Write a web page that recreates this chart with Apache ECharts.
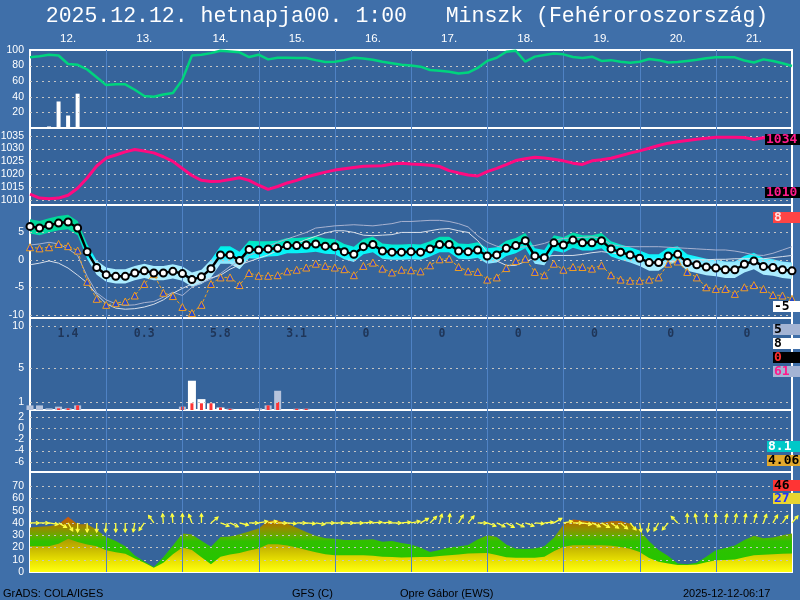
<!DOCTYPE html>
<html><head><meta charset="utf-8">
<script src="https://cdn.jsdelivr.net/npm/echarts@6.0.0/dist/echarts.min.js"></script>
<style>html,body{margin:0;padding:0;background:#3f6fa9;}#c{width:800px;height:600px;}</style>
</head><body><div id="c"></div>
<script>
// ---------------- DATA ----------------
const dayLabels = ['12.','13.','14.','15.','16.','17.','18.','19.','20.','21.'];
const humidity = [90.6,92,94,93,82,81,75,65,55,56,56,49,41,40,43,45,62,93,94,96,99,98,97,91,94,88,90,90,89.7,89.7,87,84.5,85,87,90,89,87.6,85,83,81,80,78.6,74.4,73.5,72,70,71,77,86,90,97.8,99,85,91.5,93.5,95.5,94.4,91,89.7,91.4,86,87,85,83.7,85,88.5,87,84,84.5,86,87.5,89.5,90.6,90.6,90.6,86.5,84,88,86,83,79.5];
const topBars = [[2,2],[3,34],[4,16],[5,44]];
const pressure = [1012.2,1010.7,1010.4,1010.7,1011.8,1014.5,1018.5,1023.2,1026.3,1027.5,1028.7,1029.6,1029.0,1028.3,1026.8,1025.0,1022.2,1019.5,1017.6,1017.2,1017.3,1017.9,1018.6,1017.6,1015.7,1014.1,1015.2,1016.6,1017.6,1018.9,1019.9,1020.8,1021.6,1022.1,1022.6,1023.1,1023.2,1023.3,1024.0,1024.3,1024.0,1023.8,1023.5,1023.0,1021.4,1020.5,1019.7,1019.3,1021.0,1022.3,1023.7,1025.3,1026.0,1026.6,1026.3,1025.8,1025.2,1024.3,1023.8,1025.2,1025.6,1026.2,1027.2,1028.2,1029.1,1030.1,1031.2,1032.1,1032.6,1033.1,1033.6,1034.0,1034.4,1034.4,1034.4,1034.3,1033.5,1034.2,1034.4,1034.3,1034.2];
const temp = [6.1,5.8,6.3,6.7,6.9,5.8,1.5,-1.4,-2.7,-3.0,-3.0,-2.4,-2.0,-2.4,-2.4,-2.1,-2.5,-3.6,-3.1,-1.6,0.9,0.9,-0.1,1.9,1.8,2.0,2.1,2.6,2.6,2.7,2.9,2.5,2.4,1.5,1.0,2.4,2.8,1.6,1.4,
 1.4,1.5,1.4,2.0,2.8,2.8,1.6,1.5,1.8,0.7,0.9,2.1,2.6,3.5,0.7,0.4,3.1,2.7,3.6,3.1,3.1,3.5,2.0,1.4,0.9,0.3,-0.5,-0.5,0.7,1.0,-0.5,-0.9,-1.3,-1.5,-1.8,-1.8,-0.8,-0.2,-1.2,-1.4,-1.8,-2.0];
const tempHigh = [7.4,7.1,7.6,8.0,8.2,7.1,2.9,-0.1,-1.4,-1.7,-1.7,-1.1,-0.7,-1.1,-1.1,-0.8,-1.2,-2.3,-1.8,0.0,2.5,2.5,1.5,3.5,3.4,
 3.4,3.5,4.0,4.0,4.1,4.3,3.9,3.8,2.9,2.4,3.8,4.2,3.0,2.8,
 2.8,2.9,2.8,3.4,4.2,4.2,3.0,2.9,3.2,2.1,2.3,3.5,4.0,4.9,2.1,1.8,4.5,4.1,5.0,4.5,4.5,4.9,3.4,2.8,2.3,1.7,
 1.0,1.0,2.2,2.5,1.0,0.6,0.2,0.0,-0.3,-0.3,0.7,1.3,0.3,0.1,-0.3,-0.5];
const tempLow = [4.8,4.5,5.0,5.4,5.6,4.5,0.2,-2.7,-4.0,-4.3,-4.3,-3.7,-3.3,-3.7,-3.7,-3.4,-3.8,-4.9,-4.4,-3.2,-0.7,-0.7,-1.7,0.3,0.2,
 0.6,0.7,1.2,1.2,1.3,1.5,1.1,1.0,0.1,-0.4,1.0,1.4,0.2,0.0,
 0.0,0.1,0.0,0.6,1.4,1.4,0.2,0.1,0.4,-0.7,-0.5,0.7,1.2,2.1,-0.7,-1.0,1.7,1.3,2.2,1.7,1.7,2.1,0.6,0.0,-0.5,-1.1,
 -2.0,-2.0,-0.8,-0.5,-2.0,-2.4,-2.8,-3.0,-3.3,-3.3,-2.3,-1.7,-2.7,-2.9,-3.3,-3.5];
const dewpoint = [2.3,2.1,2.3,2.9,2.5,1.7,-4.0,-7.1,-8.2,-7.9,-7.6,-6.5,-4.4,-2.6,-6.0,-6.6,-8.6,-9.7,-8.2,-4.4,-3.2,-3.2,-4.6,-2.4,-2.9,-2.9,-2.8,-2.1,-1.8,-1.4,-0.7,-1.1,-1.4,-1.7,-2.8,-1.1,-0.5,-1.6,-2.3,
 -1.8,-1.9,-2.1,-1.0,0.1,0.2,-1.3,-2.1,-2.2,-3.6,-3.2,-1.5,-0.2,0.2,-2.2,-2.8,-0.7,-1.8,-1.3,-1.3,-1.6,-1.0,-2.8,-3.6,-3.8,-3.8,-3.6,-3.2,-0.7,-0.3,-2.2,-3.2,-5.0,-5.3,-5.3,-6.2,-5.0,-4.6,-5.3,-6.4,-6.5,-7.1];
const tempAltA = [-0.9,-0.6,-0.2,-0.6,-1.5,-2.8,-4.2,-6.3,-8.0,-8.8,-9.0,-8.9,-8.6,-8.1,-7.3,-6.1,-5.2,-4.4,-3.8,-3.3,-2.8,-1.7,-0.9,-0.3,0.3,0.9,1.7,2.4,3.0,3.7,4.3,4.9,5.3,5.3,5.0,4.5,4.4,4.5,4.6,5.0,5.0,5.0,5.3,5.6,5.7,5.3,5.0,3.5,1.4,-0.2,-1.0,-1.0,-0.3,0.3,0.6,0.8,0.8,0.8,1.0,1.3,1.5,1.3,1.0,0.8,0.3,-0.5,-0.6,-0.4,-0.2,-0.1,0.0,0.0,0.1,0.1,0.2,0.2,0.2,0.2,0.4,0.6,0.8];
const tempAltB = [2.7,2.9,3.2,2.9,2.0,0.8,-3.0,-6.0,-7.3,-8.0,-8.3,-8.2,-7.8,-7.6,-6.8,-5.9,-6.5,-5.0,-4.2,-3.5,-2.5,-1.2,-0.2,0.8,1.5,2.5,3.2,3.8,4.4,5.0,5.8,6.0,6.2,6.3,6.4,6.3,6.2,6.4,6.6,7.0,7.0,7.1,7.2,7.2,7.0,6.6,6.0,4.4,3.2,2.5,2.1,2.2,2.4,2.6,3.0,3.6,3.9,4.0,4.1,4.2,4.0,2.8,2.5,2.4,2.4,2.4,2.4,2.3,2.2,2.1,2.0,1.9,1.8,1.8,1.6,1.3,0.9,0.8,1.2,1.8,2.4];
const precipGray = [[0,0.55],[1,0.55],[2,0.2],[3,0.4],[4,0.2],[5,0.55],[16,0.4],[21,0.15],[24,0.2],[25,0.55],[26,2.3],[28,0.15],[29,0.15]];
const precipWhite = [[17,3.5],[18,1.3],[19,0.8],[20,0.3]];
const precipRed = [[3,0.2],[4,0.2],[5,0.55],[16,0.4],[17,0.8],[18,0.8],[19,0.8],[20,0.3],[21,0.15],[25,0.55],[26,0.95],[28,0.15],[29,0.15]];
const precipDaily = [1.4,0.3,5.8,3.1,0,0,0,0,0,0];
const windGust = [36.3,36.8,37.3,39,45,39,39,34.5,28.5,25.2,21,13.5,8.5,4,12,21.5,31.4,30.5,25.5,20.5,28.5,29,30.8,33,35.4,41.8,42.2,39.5,36,32.5,29.5,27.5,27,26.1,26.1,26.3,26.6,24.7,25.2,23.7,22.5,19.8,16.4,18,19.9,20.8,22,26.5,30,28.6,22.5,19,18.8,19.2,21,28,38.5,42.8,42,41,40.2,41.3,41.5,39.3,34,25,18,13,7,6.3,7.5,12.5,17.7,19.5,21.5,26,29.5,27.5,28.2,30,31.4];
const windSpeed = [21,21,21,23,27,24.5,22.5,21,17.7,16,14.8,11,7.5,3.5,7.5,14.5,19.9,18,12,6.3,12.5,14.2,15.5,17.5,19.1,22.6,22.6,21.5,20,18,16,14.5,13.6,13.6,13.6,13.6,13.2,12.4,12.3,11.8,12,12.2,12.3,13,13.6,14.3,15,15.3,15.5,13.8,12,11.7,11.7,11.7,12.5,17,20.5,21.8,21.8,21.8,21.8,21.3,20.3,19,16.4,11.5,8.4,7,5.8,5.7,6.1,8,9.5,9.8,10.2,12,13.6,14,14.4,14.8,15];
const windDir = [0,0,-10,-30,-60,-90,-90,-90,-95,-90,-90,-100,-125,125,95,95,90,110,90,40,-20,-25,-15,0,10,10,0,-5,0,-5,-10,0,0,0,0,5,5,5,0,5,10,30,45,75,85,60,50,0,-20,-25,-30,-25,-20,-5,5,30,10,0,-10,-25,-30,-35,-40,-50,-80,-100,-120,-130,135,90,100,90,90,80,80,80,75,70,60,55,50];
const yTicks = [[20,40,60,80,100],[1010,1015,1020,1025,1030,1035],[-10,-5,0,5],[1,5,10],[-6,-4,-2,0,2],[0,10,20,30,40,50,60,70]];
const gridVals = [[20,40,60,80],[1010,1015,1020,1025,1030,1035],[-10,-5,0,5],[1,5,10],[-6,-4,-2,0,2],[10,20,30,40,50,60,70]];
const dayLines = [8,16,24,32,40,48,56,64,72];
const sideLabels = [
  {t:'1034',y:134,x:765,bg:'#000000',fg:'#ff1a8c'},
  {t:'1010',y:187,x:765,bg:'#000000',fg:'#ff1a8c'},
  {t:'8',y:212,x:773,bg:'#ff4444',fg:'#ffe0e0'},
  {t:'-5',y:301,x:773,bg:'#ffffff',fg:'#000000'},
  {t:'5',y:324,x:773,bg:'#a4b4d4',fg:'#000000'},
  {t:'8',y:338,x:773,bg:'#ffffff',fg:'#000000'},
  {t:'0',y:352,x:773,bg:'#000000',fg:'#ff3030'},
  {t:'61',y:366,x:773,bg:'#a4b4d4',fg:'#ff1a8c'},
  {t:'8.1',y:441,x:767,bg:'#00c8c8',fg:'#ffffff'},
  {t:'4.06',y:455,x:767,bg:'#e2a82c',fg:'#000000'},
  {t:'46',y:480,x:773,bg:'#ff3434',fg:'#000000'},
  {t:'27',y:493,x:773,bg:'#e8d430',fg:'#2030ff'}
];
const ARROW_LEVEL = 40;

// ---------------- LAYOUT ----------------
const chart = echarts.init(document.getElementById('c'));
const PLOT_BG = '#36649b';
const gridBoxes = [[50,78],[128,77],[205,113],[318,92],[410,62],[472,100]];
const yRanges = [[0,100],[1008,1038],[-10.6,10],[0,11],[-7.8,3.2],[0,81.5]];
const grid = gridBoxes.map(b => ({left:30,width:762,top:b[0],height:b[1],show:true,backgroundColor:PLOT_BG,borderColor:'#ffffff',borderWidth:2,containLabel:false,outerBoundsMode:'none'}));
const xAxis = [];
for (let i=0;i<6;i++) xAxis.push({gridIndex:i,type:'value',min:0,max:80,show:i===0,position:'top',
  axisLine:{show:false},axisTick:{show:false},splitLine:{show:false},
  axisLabel:{show:i===0,customValues:[4,12,20,28,36,44,52,60,68,76],formatter:v=>dayLabels[Math.round((v-4)/8)],color:'#ffffff',fontSize:11.5,fontFamily:'Liberation Sans',margin:5}});
xAxis.push({gridIndex:3,type:'value',min:0,max:80,show:false});
xAxis.push({gridIndex:3,type:'value',min:0,max:80,show:false});
const yAxis = yRanges.map((r,i)=>({gridIndex:i,type:'value',min:r[0],max:r[1],
  axisLine:{show:false},axisTick:{show:false},splitLine:{show:false},
  axisLabel:{customValues:yTicks[i],showMinLabel:true,showMaxLabel:true,color:'#ffffff',fontSize:10.5,fontFamily:'Liberation Sans',margin:6,formatter:v=>String(v)}}));

const pairs = arr => arr.map((v,i)=>[i,v]);
const G = (y1,y2,stops) => new echarts.graphic.LinearGradient(0,y1,0,y2,stops.map(s=>({offset:s[0],color:s[1]})),true);

const series = [];
// gridlines and day lines
for (let g=0; g<6; g++) {
  series.push({type:'custom',xAxisIndex:g,yAxisIndex:g,z:3,silent:true,clip:false,
    data:gridVals[g].map(v=>[0,v]),
    renderItem:(p,api)=>{const a=api.coord([0,api.value(1)]);const b=api.coord([80,api.value(1)]);const y=Math.round(a[1])+0.5;
      return {type:'line',shape:{x1:a[0],y1:y,x2:b[0],y2:y},style:{stroke:'#c4c4c4',lineWidth:1,lineDash:[2,4]}};}});
  const r = yRanges[g];
  series.push({type:'custom',xAxisIndex:g,yAxisIndex:g,z:3,silent:true,clip:false,
    data:dayLines.map(d=>[d,r[0]]),
    renderItem:(p,api)=>{const a=api.coord([api.value(0),r[0]]);const b=api.coord([api.value(0),r[1]]);const x=Math.round(a[0])+0.5;
      return {type:'line',shape:{x1:x,y1:a[1],x2:x,y2:b[1]},style:{stroke:'#4f82c4',lineWidth:1}};}});
}
// panel 1
series.push({type:'bar',xAxisIndex:0,yAxisIndex:0,data:topBars,barWidth:4,itemStyle:{color:'#ffffff'},z:2});
series.push({type:'line',xAxisIndex:0,yAxisIndex:0,data:pairs(humidity),symbol:'none',lineStyle:{color:'#00d47e',width:2.5},z:4});
// panel 2
series.push({type:'line',xAxisIndex:1,yAxisIndex:1,data:pairs(pressure),symbol:'none',lineStyle:{color:'#ff0a80',width:3},z:4});
// panel 3 : spread band as one polygon through the axis scales
const bandFill = G(205,318,[[0,'#00d890'],[0.243,'#00daa0'],[0.34,'#00e8c8'],[0.39,'#00f2f2'],[0.46,'#10f6ff'],[0.5,'#84e6ff'],[0.535,'#a8ecff'],[1,'#b8f0ff']]);
series.push({type:'custom',xAxisIndex:2,yAxisIndex:2,z:2,silent:true,data:[[0,tempHigh[0]]],
  renderItem:(p,api)=>{
    const pts=[];
    for (let i=0;i<tempHigh.length;i++) pts.push(api.coord([i,tempHigh[i]]));
    for (let i=tempLow.length-1;i>=0;i--) pts.push(api.coord([i,tempLow[i]]));
    return {type:'polygon',shape:{points:pts},style:{fill:bandFill}};
  }});
series.push({type:'line',xAxisIndex:2,yAxisIndex:2,data:pairs(tempAltB),symbol:'none',lineStyle:{color:'#a8b2d0',width:1},z:4});
series.push({type:'line',xAxisIndex:2,yAxisIndex:2,data:pairs(tempAltA),symbol:'none',lineStyle:{color:'#d8dfea',width:1},z:4});
series.push({type:'line',xAxisIndex:2,yAxisIndex:2,data:pairs(dewpoint),symbol:'triangle',symbolSize:7,showAllSymbol:true,
  lineStyle:{color:'#f0a020',width:1,type:[3,2]},itemStyle:{color:'#2a48c8',borderColor:'#f0a020',borderWidth:1},z:5});
series.push({type:'line',xAxisIndex:2,yAxisIndex:2,data:pairs(temp),symbol:'circle',symbolSize:7,showAllSymbol:true,
  lineStyle:{color:'#000000',width:2.5},itemStyle:{color:'#ffffff',borderColor:'#000000',borderWidth:2},z:6});
// panel 4
series.push({type:'bar',xAxisIndex:3,yAxisIndex:3,data:precipGray,barWidth:7,itemStyle:{color:'#b6c3dc'},z:2});
series.push({type:'bar',xAxisIndex:6,yAxisIndex:3,data:precipWhite,barWidth:8,itemStyle:{color:'#ffffff'},z:2});
series.push({type:'bar',xAxisIndex:7,yAxisIndex:3,data:precipRed,barWidth:3,itemStyle:{color:'#ff3434'},z:2});
series.push({type:'scatter',xAxisIndex:3,yAxisIndex:3,symbolSize:0,z:5,silent:true,
  data:precipDaily.map((v,k)=>[8*k+2.9,9.1,v]),
  label:{show:true,position:'inside',align:'left',formatter:p=>String(p.value[2]),color:'#1a2a48',fontSize:11.5,fontWeight:'bold',fontFamily:'DejaVu Sans Mono'}});
// panel 6
series.push({type:'line',xAxisIndex:5,yAxisIndex:5,data:pairs(windGust),symbol:'none',lineStyle:{width:0,opacity:0},
  areaStyle:{opacity:1,color:G(472,572,[[0,'#c04800'],[0.46,'#c85810'],[0.509,'#b07000'],[0.571,'#909000'],[0.632,'#68aa00'],[0.693,'#30c000'],[1,'#20c800']])},z:2});
series.push({type:'line',xAxisIndex:5,yAxisIndex:5,data:pairs(windSpeed),symbol:'none',lineStyle:{width:0,opacity:0},
  areaStyle:{opacity:1,color:G(472,572,[[0,'#a09000'],[0.656,'#a89800'],[0.755,'#c4b400'],[0.877,'#e6de00'],[1,'#ffff10']])},z:2});
series.push({type:'custom',xAxisIndex:5,yAxisIndex:5,z:6,silent:true,
  data:windDir.map((d,i)=>[i,ARROW_LEVEL,d]),
  renderItem:(p,api)=>{
    const c=api.coord([api.value(0),api.value(1)]);const a=api.value(2)*Math.PI/180;const len=9;
    const ex=c[0]+Math.cos(a)*len, ey=c[1]-Math.sin(a)*len; const h=3.5, ha=0.5;
    const l1=[ex-Math.cos(a-ha)*h, ey+Math.sin(a-ha)*h]; const l2=[ex-Math.cos(a+ha)*h, ey+Math.sin(a+ha)*h];
    return {type:'group',children:[
      {type:'line',shape:{x1:c[0],y1:c[1],x2:ex,y2:ey},style:{stroke:'#ffff40',lineWidth:1.3}},
      {type:'polyline',shape:{points:[l1,[ex,ey],l2]},style:{stroke:'#ffff40',lineWidth:1.3,fill:null}}]};
  }});

const graphic = [
  {type:'text',x:407,y:16,z:10,style:{text:'2025.12.12. hetnapja00. 1:00   Minszk (Fehéroroszország)',fill:'#ffffff',font:'21.5px "Liberation Mono"',align:'center',verticalAlign:'middle'}},
  {type:'text',x:3,y:594,z:10,style:{text:'GrADS: COLA/IGES',fill:'#000000',font:'11px "Liberation Sans"',verticalAlign:'middle'}},
  {type:'text',x:292,y:594,z:10,style:{text:'GFS (C)',fill:'#000000',font:'11px "Liberation Sans"',verticalAlign:'middle'}},
  {type:'text',x:400,y:594,z:10,style:{text:'Opre Gábor (EWS)',fill:'#000000',font:'11px "Liberation Sans"',verticalAlign:'middle'}},
  {type:'text',x:683,y:594,z:10,style:{text:'2025-12-12-06:17',fill:'#000000',font:'11px "Liberation Sans"',verticalAlign:'middle'}}
];
sideLabels.forEach(s=>{
  graphic.push({type:'rect',z:10,shape:{x:s.x,y:s.y,width:800-s.x,height:11},style:{fill:s.bg}});
  graphic.push({type:'text',z:11,x:s.x+1,y:s.y+6,style:{text:s.t,fill:s.fg,font:'bold 13px "DejaVu Sans Mono"',verticalAlign:'middle'}});
});

chart.setOption({backgroundColor:'#3f6fa9',animation:false,grid,xAxis,yAxis,series,graphic});
</script></body></html>
